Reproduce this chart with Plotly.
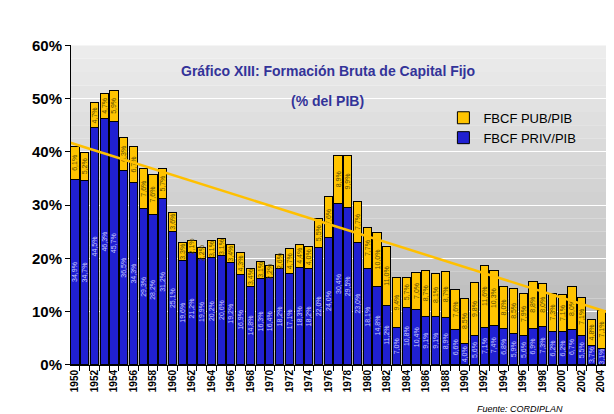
import plotly.graph_objects as go

years = list(range(1950, 2005))
priv = [34.9, 34.7, 44.5, 46.3, 45.7, 36.5, 34.3, 29.3, 28.2, 31.2,
        25.1, 19.6, 21.2, 19.9, 20.2, 20.6, 19.2, 16.9, 14.8, 16.3,
        16.4, 18.2, 17.1, 18.3, 18.2, 22.0, 24.0, 30.4, 29.5, 23.0,
        18.1, 14.8, 11.2, 7.0, 10.8, 10.4, 9.1, 9.1, 8.9, 6.6,
        4.0, 5.6, 7.1, 7.4, 6.8, 5.9, 5.6, 6.9, 7.3, 6.2,
        6.2, 6.7, 5.5, 3.7, 3.1]
pub = [6.1, 5.2, 4.7, 4.7, 5.9, 6.3, 6.7, 7.6, 7.6, 5.7,
       3.6, 3.3, 2.1, 2.2, 3.1, 3.1, 3.4, 4.3, 3.4, 3.1,
       2.2, 2.6, 4.7, 4.4, 4.0, 5.5, 7.6, 8.9, 9.9, 7.7,
       7.7, 10.0, 11.0, 9.4, 5.7, 7.0, 8.7, 8.1, 8.7, 7.6,
       8.5, 9.8, 11.6, 10.3, 8.0, 8.5, 7.9, 8.8, 8.0, 7.3,
       7.1, 8.0, 7.1, 4.8, 7.1]
# trend line end points
trend_years = [1947.5, 2004.7]
trend_values = [42.9, 9.9]


def fmt(v):
    return ("%.1f%%" % v).replace(".", ",")


fig = go.Figure()
fig.add_trace(go.Bar(
    x=years, y=priv, name="FBCF PRIV/PIB",
    marker=dict(color="#2020d2", line=dict(color="black", width=1)),
    text=[fmt(v) for v in priv], textposition="inside", textangle=-90,
    insidetextanchor="middle", constraintext="none",
    textfont=dict(family="Arial", size=7, color="#c8c8ff"),
))
fig.add_trace(go.Bar(
    x=years, y=pub, name="FBCF PUB/PIB",
    marker=dict(color="#ffc400", line=dict(color="black", width=1)),
    text=[fmt(v) for v in pub], textposition="inside", textangle=-90,
    insidetextanchor="middle", constraintext="none",
    textfont=dict(family="Arial", size=7, color="#5a4a00"),
))
fig.add_trace(go.Scatter(
    x=trend_years, y=trend_values, mode="lines", showlegend=False,
    line=dict(color="#ffc000", width=2.5), cliponaxis=False,
))

# the paper is the framed box; the plot area sits inside it
xdom = [0.0941, 0.995]
ydom = [0.1046, 0.9388]

shapes = []
n = 24
for i in range(n):
    t = i / (n - 1)
    c = int(0xb4 + (0xec - 0xb4) * t)
    h = (ydom[1] - ydom[0]) / n
    shapes.append(dict(type="rect", xref="paper", yref="paper", x0=xdom[0], x1=xdom[1],
                       y0=ydom[0] + i * h, y1=ydom[0] + (i + 1) * h, layer="below",
                       fillcolor="rgb(%d,%d,%d)" % (c, c, c), line=dict(width=0)))

frame_axis = dict(domain=[0, 1], range=[0, 1], showline=True, mirror=True,
                  linecolor="#202020", linewidth=2, showticklabels=False,
                  ticks="", showgrid=False, zeroline=False, fixedrange=True)

fig.update_layout(
    width=614, height=414,
    margin=dict(l=7, r=12, t=5, b=17),
    barmode="stack", bargap=0.16,
    paper_bgcolor="white", plot_bgcolor="rgba(0,0,0,0)",
    shapes=shapes,
    xaxis2=dict(anchor="y2", **frame_axis),
    yaxis2=dict(anchor="x2", **frame_axis),
    showlegend=True,
    legend=dict(x=0.72, y=0.789, xanchor="left", yanchor="top", traceorder="reversed",
                bgcolor="rgba(0,0,0,0)", font=dict(family="Arial", size=13, color="black"),
                itemwidth=30, tracegroupgap=0),
    annotations=[
        dict(text="Gráfico XIII: Formación Bruta de Capital Fijo", xref="paper", yref="paper",
             x=0.526, y=0.898, showarrow=False,
             font=dict(family="Arial", size=14, color="#333399", weight="bold")),
        dict(text="(% del PIB)", xref="paper", yref="paper",
             x=0.526, y=0.821, showarrow=False,
             font=dict(family="Arial", size=14, color="#333399", weight="bold")),
        dict(text="<i>Fuente: CORDIPLAN</i>", xref="paper", yref="paper",
             x=0.924, y=-0.028, xanchor="right", showarrow=False,
             font=dict(family="Arial", size=9, color="black")),
    ],
)
fig.update_layout(
    xaxis=dict(
        domain=xdom,
        range=[1949.59, 2004.6], tickvals=years[::2], ticktext=[str(y) for y in years[::2]],
        tickangle=-90, tickfont=dict(family="Arial", size=10, color="black", weight="bold"),
        ticks="", showline=True, linecolor="black", linewidth=1, showgrid=False,
        minor=dict(tick0=1949.5, dtick=1, ticks="outside", ticklen=5, tickcolor="black",
                   showgrid=False),
    ),
    yaxis=dict(
        domain=ydom,
        range=[0, 60], dtick=10, ticksuffix="%", ticks="outside", ticklen=5, tickcolor="black",
        tickfont=dict(family="Arial", size=15, color="black", weight="bold"),
        showline=True, linecolor="black", linewidth=1,
        showgrid=True, gridcolor="white", gridwidth=1, zeroline=False,
    ),
)

fig.write_html("out.html")
